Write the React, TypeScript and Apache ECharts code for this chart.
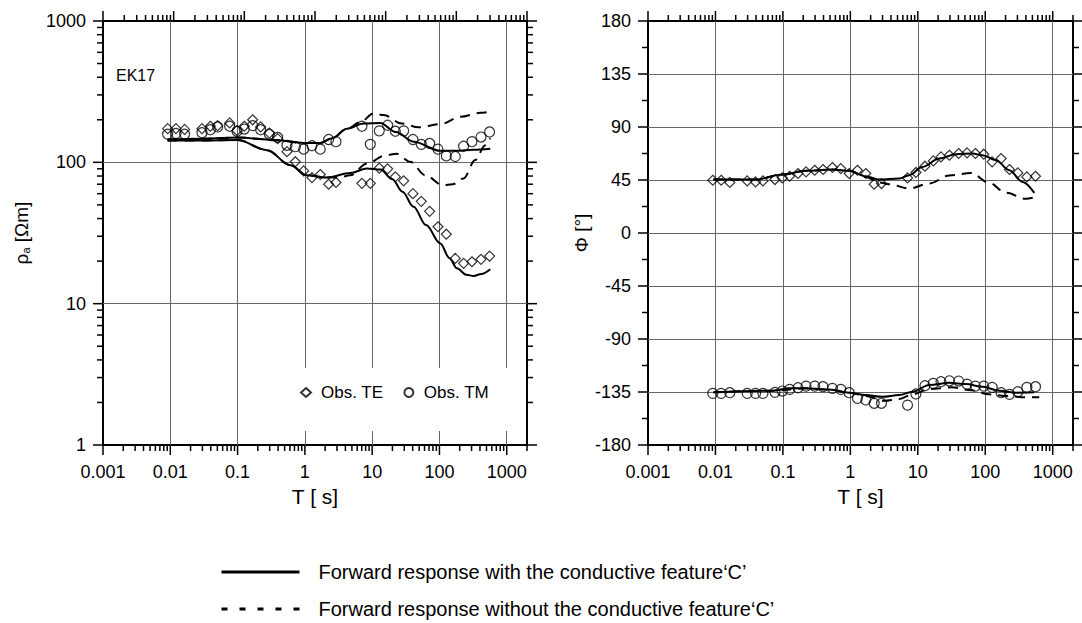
import React, { useEffect, useRef } from "react";
import * as echarts from "echarts";

const FONT = "'Liberation Sans', Arial, Helvetica, sans-serif";

// Observed periods [s]
const periods = [0.00914, 0.01216, 0.01633, 0.02958, 0.03936, 0.05058, 0.07621, 0.09795, 0.1259, 0.1675, 0.2203, 0.2965, 0.3936, 0.542, 0.7211, 0.9594, 1.274, 1.694, 2.254, 2.897, 7.047, 9.376, 12.76, 16.98, 22.08, 29.38, 40.36, 53.7, 71.45, 95.06, 126.5, 171.8, 228.6, 304.1, 414.0, 555.9];
// Observed apparent resistivity [Ohm m]
const rhoTE = [173, 173, 171, 173, 180, 182, 190, 168, 180, 200, 178, 161, 147, 119, 101, 87, 78, 82, 70, 72, 71, 71, 91, 90, 79, 74, 60, 53, 45, 35, 31, 20.9, 19.3, 19.8, 20.6, 21.7];
const rhoTM = [158, 160, 158, 162, 170, 178, 180, 166, 172, 182, 170, 158, 150, 132, 129, 124, 131, 124, 145, 140, 180, 134, 167, 183, 166, 167, 145, 134, 136, 124, 111, 110, 130, 140, 151, 164];
// Observed phase [deg]
const phiTE = [44.8, 44.8, 42.9, 44.2, 43.4, 44.2, 45.4, 46.8, 48.2, 50.5, 51.9, 53.3, 53.9, 55.6, 54.7, 50.5, 53.3, 50.5, 41.4, 42.0, 46.8, 51.4, 56.7, 61.2, 64.6, 66.0, 67.5, 68.0, 67.5, 66.9, 60.4, 63.2, 53.9, 51.0, 47.6, 48.2];
const phiTM = [-136.2, -136.2, -135.6, -136.2, -136.2, -136.2, -135.3, -134.2, -132.8, -131.4, -130.0, -130.0, -130.5, -131.9, -132.8, -135.6, -140.4, -141.8, -144.6, -144.6, -146.1, -136.7, -129.7, -127.7, -126.3, -125.5, -125.7, -128.3, -130.0, -130.0, -131.1, -135.6, -137.0, -134.8, -131.1, -130.5];

// Forward responses (with / without conductive feature C)
const rhoTEwithT = [0.00912, 0.0316, 0.1, 0.274, 0.607, 1.07, 2.13, 4.73, 8.38, 13.2, 20.0, 28.2, 41.2, 63.1, 103, 141, 182, 251, 321, 417, 569];
const rhoTEwith = [143, 143, 144, 122, 95.5, 81, 78, 84, 90.6, 89, 76, 62, 48.5, 36, 26.7, 21, 17.8, 16, 15.7, 16.2, 17.5];
const rhoTEwithoutT = [0.00912, 0.0316, 0.1, 0.274, 0.607, 1.07, 2.13, 3.16, 4.73, 8.38, 15.7, 23.3, 36.8, 61.7, 112, 158, 228, 340, 479, 569];
const rhoTEwithout = [143, 143, 144, 122, 95.5, 81, 78, 78, 81, 98, 112, 115, 101, 81, 69, 70, 77, 104, 132, 148];
const rhoTMwithT = [0.00912, 0.0316, 0.1, 0.385, 0.955, 1.69, 2.53, 4.23, 7.46, 13.2, 22.4, 41.2, 103, 182, 316, 569];
const rhoTMwith = [145, 147, 150, 143.5, 137, 137, 148, 173, 188, 190, 164, 140, 120.6, 120.6, 123, 125];
const rhoTMwithoutT = [0.00912, 0.0316, 0.1, 0.385, 0.955, 1.69, 2.53, 4.23, 6.65, 10.5, 14.8, 27.7, 49.0, 103, 204, 404, 569];
const rhoTMwithout = [145, 147, 150, 143.5, 137, 137, 148, 173, 192, 222, 216, 188, 177, 186, 210, 224, 228];

const phiTEwithT = [0.00933, 0.0396, 0.0984, 0.219, 0.543, 0.959, 1.70, 2.67, 5.30, 7.45, 11.7, 20.8, 36.7, 64.9, 91.2, 144, 227, 358, 533];
const phiTEwith = [45.4, 45.4, 49.6, 52.8, 53.9, 52.8, 48.2, 45.4, 46.3, 49.1, 56.1, 63.2, 66.9, 67.5, 66.0, 61.8, 53.3, 43.4, 34.1];
const phiTEwithoutT = [0.00933, 0.0396, 0.0984, 0.219, 0.543, 0.959, 1.70, 2.67, 3.76, 7.45, 14.8, 29.2, 61.4, 115, 203, 402, 533];
const phiTEwithout = [45.4, 45.4, 49.6, 52.8, 53.9, 52.8, 47.5, 43, 41.4, 37.8, 42.0, 48.8, 51.0, 42.5, 34.1, 29.0, 30.2];
const phiTMwithT = [0.00933, 0.07, 0.124, 0.219, 0.484, 0.959, 1.70, 2.99, 5.30, 8.36, 14.8, 29.2, 51.8, 91.2, 161, 286, 533];
const phiTMwith = [-135.3, -133.9, -131.9, -131.9, -132.8, -135.6, -137.6, -139.0, -137.6, -134.8, -129.1, -127.2, -128.3, -130.5, -133.9, -135.6, -135.3];
const phiTMwithoutT = [0.00933, 0.07, 0.219, 0.484, 0.959, 1.70, 3.16, 5.30, 8.36, 14.8, 31.6, 61.7, 115, 214, 398, 631];
const phiTMwithout = [-135.3, -133.9, -131.9, -132.8, -135.6, -138.5, -142.4, -141, -137, -132.5, -131, -133.5, -137, -138.5, -139.5, -139.5];

// Axis ticks
const periodDecades = [0.001, 0.01, 0.1, 1, 10, 100, 1000];
const rhoDecades = [1, 10, 100, 1000];
const minorMultipliers = [2, 3, 4, 5, 6, 7, 8, 9];
const phaseMajor = [-180, -135, -90, -45, 0, 45, 90, 135, 180];
const phaseMinor = [-157.5, -112.5, -67.5, -22.5, 22.5, 67.5, 112.5, 157.5];

const NAME_WITH = "Forward response with the conductive feature\u2018C\u2019";
const NAME_WITHOUT = "Forward response without the conductive feature\u2018C\u2019";

const pairs = (xs: number[], ys: number[]) => xs.map((x, i) => [x, ys[i]]);

const logMinors = (decades: number[], max: number) =>
  decades.flatMap((d) => minorMultipliers.map((m) => +(m * d).toPrecision(6))).filter((v) => v <= max);

const isDecade = (v: number) => {
  const l = Math.log10(v);
  return Math.abs(l - Math.round(l)) < 1e-6;
};
const fmtDecade = (v: number) => (isDecade(v) ? String(+(+v).toPrecision(6)) : "");

function tickSeries(xi: number, yi: number, data: number[][], side: string) {
  return {
    type: "custom",
    xAxisIndex: xi,
    yAxisIndex: yi,
    silent: true,
    clip: false,
    z: 6,
    data,
    renderItem: (params: any, api: any) => {
      const p = api.coord([api.value(0), api.value(1)]);
      const len = api.value(2) ? 10 : 6;
      let x2 = p[0];
      let y2 = p[1];
      if (side === "bottom") y2 += len;
      else if (side === "top") y2 -= len;
      else if (side === "left") x2 -= len;
      else x2 += len;
      return {
        type: "line",
        shape: { x1: p[0], y1: p[1], x2, y2 },
        style: { stroke: "#000", lineWidth: 1.5 },
      };
    },
  };
}

const scatterStyle = { color: "rgba(0,0,0,0)", borderColor: "#000", borderWidth: 1.2 };

function obs(name: string, symbol: string, xi: number, xs: number[], ys: number[]) {
  return {
    type: "scatter",
    name,
    xAxisIndex: xi,
    yAxisIndex: xi,
    symbol,
    symbolSize: 10,
    itemStyle: scatterStyle,
    data: pairs(xs, ys),
    z: 4,
  };
}

function curve(name: string, dashed: boolean, xi: number, xs: number[], ys: number[]) {
  return {
    type: "line",
    name,
    xAxisIndex: xi,
    yAxisIndex: xi,
    symbol: "none",
    smooth: 0.35,
    smoothMonotone: "x",
    lineStyle: { color: "#000", width: 2, type: dashed ? [10, 7] : "solid" },
    itemStyle: { color: "#000" },
    data: pairs(xs, ys),
    z: 3,
  };
}

const splitLine = {
  show: true,
  showMinLine: false,
  showMaxLine: false,
  lineStyle: { color: "#666", width: 1 },
};

const labelStyle = { color: "#000", fontSize: 18, fontFamily: FONT };

function periodAxis(gridIndex: number) {
  return {
    type: "log",
    logBase: 10,
    gridIndex,
    min: 0.001,
    max: 2000,
    axisLine: { show: false },
    axisTick: { show: false },
    minorTick: { show: false },
    axisLabel: { ...labelStyle, margin: 18, formatter: fmtDecade },
    splitLine,
    name: "T [ s]",
    nameLocation: "middle",
    nameGap: 41,
    nameTextStyle: { color: "#000", fontSize: 21, fontFamily: FONT },
  };
}

const hiddenIcon = { color: "rgba(0,0,0,0)", borderColor: "rgba(0,0,0,0)", borderWidth: 0, opacity: 0 };

export default function App() {
  const ref = useRef<HTMLDivElement>(null);
  useEffect(() => {
    document.body.style.margin = "0";
    const chart = echarts.init(ref.current as HTMLDivElement, null, { renderer: "svg" });

    const xMinorBottom = logMinors(periodDecades, 2000);
    const xMinorTopLeft = logMinors(periodDecades, 1000);
    const yMinorRho = logMinors(rhoDecades, 1000);

    const horiz = (majors: number[], minors: number[], yv: number) => [
      ...majors.map((v) => [v, yv, 1]),
      ...minors.map((v) => [v, yv, 0]),
    ];
    const vert = (majors: number[], minors: number[], xv: number) => [
      ...majors.map((v) => [xv, v, 1]),
      ...minors.map((v) => [xv, v, 0]),
    ];

    const option: any = {
      animation: false,
      textStyle: { fontFamily: FONT },
      grid: [
        { left: 103, top: 21, width: 424, height: 424, show: true, borderColor: "#000", borderWidth: 2, backgroundColor: "transparent" },
        { left: 648, top: 21, width: 425, height: 424, show: true, borderColor: "#000", borderWidth: 2, backgroundColor: "transparent" },
      ],
      xAxis: [
        periodAxis(0),
        periodAxis(1),
        { type: "log", logBase: 10, gridIndex: 0, min: 0.001, max: 1000, position: "top", show: false },
      ],
      yAxis: [
        {
          type: "log",
          logBase: 10,
          gridIndex: 0,
          min: 1,
          max: 1000,
          axisLine: { show: false },
          axisTick: { show: false },
          minorTick: { show: false },
          axisLabel: { ...labelStyle, margin: 17, formatter: fmtDecade },
          splitLine,
          name: "{a|\u03c1}{b|a}{c| [\u03a9m]}",
          nameLocation: "middle",
          nameRotate: 90,
          nameGap: 72,
          nameTextStyle: {
            color: "#000",
            fontFamily: FONT,
            rich: {
              a: { fontSize: 19, fontFamily: FONT, color: "#000", verticalAlign: "top", lineHeight: 19 },
              b: { fontSize: 11, fontFamily: FONT, color: "#000", verticalAlign: "bottom", lineHeight: 11, padding: [12, 0, 0, 0] },
              c: { fontSize: 19, fontFamily: FONT, color: "#000", verticalAlign: "top", lineHeight: 19 },
            },
          },
        },
        {
          type: "value",
          gridIndex: 1,
          min: -180,
          max: 180,
          interval: 45,
          axisLine: { show: false },
          axisTick: { show: false },
          axisLabel: { ...labelStyle, margin: 17 },
          splitLine,
          name: "\u03a6 [\u00b0]",
          nameLocation: "middle",
          nameRotate: 90,
          nameGap: 48,
          nameTextStyle: { color: "#000", fontSize: 19, fontFamily: FONT },
        },
      ],
      legend: [
        {
          data: ["Obs. TE", "Obs. TM"],
          left: 300,
          top: 384,
          padding: 0,
          itemGap: 20,
          itemWidth: 10,
          itemHeight: 9,
          selectedMode: false,
          z: 10,
          textStyle: { color: "#000", fontSize: 17, fontFamily: FONT, padding: [0, 0, 0, 5] },
        },
        {
          data: [NAME_WITH],
          left: 220,
          top: 562,
          padding: 0,
          itemWidth: 78,
          itemHeight: 16,
          selectedMode: false,
          itemStyle: hiddenIcon,
          lineStyle: { width: 3 },
          textStyle: { color: "#000", fontSize: 20, fontFamily: FONT, padding: [0, 0, 0, 14] },
        },
        {
          data: [NAME_WITHOUT],
          left: 220,
          top: 599,
          padding: 0,
          itemWidth: 78,
          itemHeight: 16,
          selectedMode: false,
          itemStyle: hiddenIcon,
          lineStyle: { width: 3, type: [6, 12] },
          textStyle: { color: "#000", fontSize: 20, fontFamily: FONT, padding: [0, 0, 0, 14] },
        },
      ],
      graphic: [
        { type: "rect", z: 3, silent: true, shape: { x: 290, y: 368, width: 235, height: 63 }, style: { fill: "#fff" } },
        { type: "text", z: 5, left: 116, top: 67, style: { text: "EK17", fontSize: 16, fontFamily: FONT, fill: "#000" } },
      ],
      series: [
        curve(NAME_WITH, false, 0, rhoTEwithT, rhoTEwith),
        curve(NAME_WITHOUT, true, 0, rhoTEwithoutT, rhoTEwithout),
        curve(NAME_WITH, false, 0, rhoTMwithT, rhoTMwith),
        curve(NAME_WITHOUT, true, 0, rhoTMwithoutT, rhoTMwithout),
        obs("Obs. TE", "diamond", 0, periods, rhoTE),
        obs("Obs. TM", "circle", 0, periods, rhoTM),
        curve(NAME_WITH, false, 1, phiTEwithT, phiTEwith),
        curve(NAME_WITHOUT, true, 1, phiTEwithoutT, phiTEwithout),
        curve(NAME_WITH, false, 1, phiTMwithT, phiTMwith),
        curve(NAME_WITHOUT, true, 1, phiTMwithoutT, phiTMwithout),
        obs("Obs. TE", "diamond", 1, periods, phiTE),
        obs("Obs. TM", "circle", 1, periods, phiTM),
        // left panel ticks
        tickSeries(0, 0, horiz(periodDecades, xMinorBottom, 1), "bottom"),
        tickSeries(2, 0, horiz(periodDecades, xMinorTopLeft, 1000), "top"),
        tickSeries(0, 0, vert(rhoDecades, yMinorRho, 0.001), "left"),
        tickSeries(0, 0, vert(rhoDecades, yMinorRho, 2000), "right"),
        // right panel ticks
        tickSeries(1, 1, horiz(periodDecades, xMinorBottom, -180), "bottom"),
        tickSeries(1, 1, horiz(periodDecades, xMinorBottom, 180), "top"),
        tickSeries(1, 1, vert(phaseMajor, phaseMinor, 0.001), "left"),
        tickSeries(1, 1, vert(phaseMajor, phaseMinor, 2000), "right"),
      ],
    };
    chart.setOption(option);
    return () => chart.dispose();
  }, []);
  return <div ref={ref} style={{ width: 1082, height: 623 }} />;
}
